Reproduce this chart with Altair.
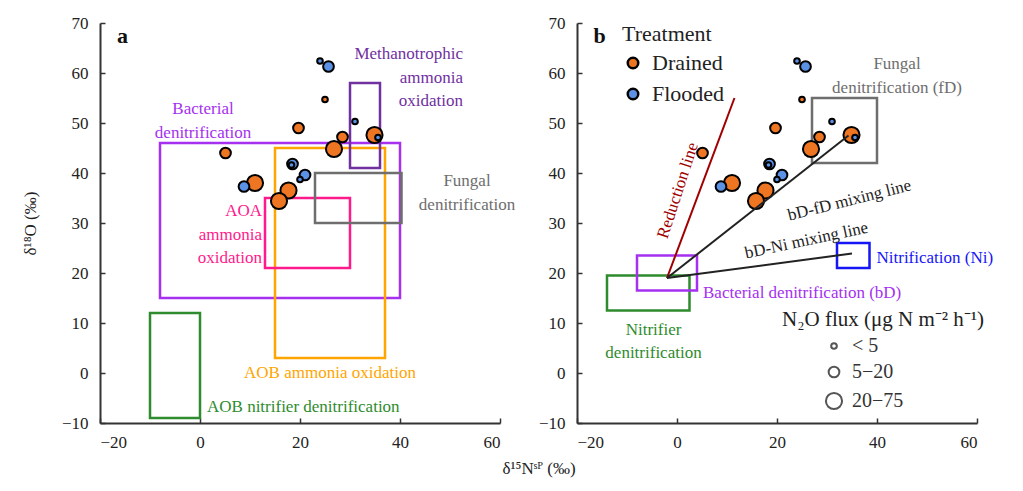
import altair as alt
import pandas as pd

FONT = "Liberation Serif"

# ---------------- data ----------------
# measured samples (same in both panels); large first so small ones sit on top
pt_x = [34.9, 26.8, 11.0, 17.7, 15.8, 19.7, 28.5, 5.1, 18.5, 21.0, 8.8, 25.7, 24.0, 25.0, 31.0, 35.6, 18.3, 20.0]
pt_y = [47.6, 44.8, 38.0, 36.5, 34.4, 49.0, 47.2, 44.0, 41.8, 39.6, 37.3, 61.3, 62.4, 54.7, 50.3, 47.1, 41.6, 38.7]
pt_treat = ["Drained", "Drained", "Drained", "Drained", "Drained",
            "Drained", "Drained", "Drained", "Flooded", "Flooded", "Flooded", "Flooded",
            "Flooded", "Drained", "Flooded", "Flooded", "Flooded", "Flooded"]
pt_flux = ["20\u221275"] * 5 + ["5\u221220"] * 7 + ["< 5"] * 6

treat_domain = ["Drained", "Flooded"]
treat_colors = ["#EE7623", "#5B92E5"]
flux_domain = ["< 5", "5\u221220", "20\u221275"]
flux_sizes = [32, 115, 260]

x_ticks = [-20, 0, 20, 40, 60]
y_ticks = [-10, 0, 10, 20, 30, 40, 50, 60, 70]

# panel a: source boxes
a_box_x1 = [-8, 15, 13, 23, 30, -10]
a_box_x2 = [40, 37, 30, 40.3, 36, 0]
a_box_y1 = [15, 3, 21, 30, 41, -9]
a_box_y2 = [46, 45, 35, 40, 58, 12]
a_box_col = ["#A530F0", "#FFA500", "#FF1A8C", "#6E6E6E", "#7030A0", "#2E8B2E"]

a_lab_text = ["Bacterial\ndenitrification", "Methanotrophic\nammonia\noxidation",
              "Fungal\ndenitrification", "AOA\nammonia\noxidation",
              "AOB ammonia oxidation", "AOB nitrifier denitrification"]
a_lab_x = [0.6, 52.6, 53.4, 12.4, 26.0, 1.4]
a_lab_y = [52.8, 63.8, 38.4, 32.4, 0.0, -6.8]
a_lab_col = ["#A530F0", "#7030A0", "#6E6E6E", "#FF1A8C", "#FFA500", "#2E8B2E"]
a_lab_align = ["center", "right", "center", "right", "center", "left"]
a_lab_angle = [0, 0, 0, 0, 0, 0]

# panel b: source boxes
b_box_x1 = [27, 32, -14, -8]
b_box_x2 = [40, 38.5, 2.5, 4]
b_box_y1 = [42, 21, 12.5, 16.5]
b_box_y2 = [55, 26, 19.5, 23.5]
b_box_col = ["#6E6E6E", "#1515F5", "#2E8B2E", "#A530F0"]

# panel b: reduction and mixing lines
b_line_x1 = [-2, -2, -2]
b_line_y1 = [19, 19, 19]
b_line_x2 = [11.5, 34.3, 35.0]
b_line_y2 = [55, 47.5, 23.9]
b_line_col = ["#A00000", "#222222", "#222222"]

b_lab_text = ["Fungal\ndenitrification (fD)", "Nitrification (Ni)", "Bacterial denitrification (bD)",
              "Nitrifier\ndenitrification", "Reduction line", "bD-fD mixing line", "bD-Ni mixing line"]
b_lab_x = [44.0, 39.9, 5.2, -4.7, 0.2, 34.5, 25.9]
b_lab_y = [61.8, 23.1, 16.0, 8.7, 36.5, 34.5, 26.5]
b_lab_col = ["#6E6E6E", "#1515F5", "#A530F0", "#2E8B2E", "#A00000", "#222222", "#222222"]
b_lab_align = ["center", "left", "left", "center", "center", "center", "center"]
b_lab_angle = [0, 0, 0, 0, 288, 346, 348]

panel_letters = ["a", "b"]
letter_x = -15.5
letter_y = 67.4

# ---------------- tables ----------------
points = pd.DataFrame({"x": pt_x, "y": pt_y, "Treatment": pt_treat, "flux": pt_flux})
tickdf = pd.DataFrame({"x": [-20], "y": [-10]})

XS = alt.Scale(domain=[-20, 60], nice=False, zero=False)
YS = alt.Scale(domain=[-10, 70], nice=False, zero=False)


def main_x(title=None):
    kw = dict(values=x_ticks, orient="bottom", tickSize=0, labelPadding=11, domainWidth=2,
              domainColor="#333", labelFont=FONT, labelFontSize=17, labelColor="#222",
              grid=False, titleFont=FONT, titleFontSize=17, titleFontWeight="normal",
              titleColor="#222", titlePadding=10)
    if title:
        return alt.Axis(title=title, titleX=438.5, **kw)
    return alt.Axis(title=None, **kw)


def main_y(title=None):
    kw = dict(values=y_ticks, orient="left", tickSize=0, labelPadding=12, domainWidth=2,
              domainColor="#333", labelFont=FONT, labelFontSize=17, labelColor="#222",
              grid=False, titleFont=FONT, titleFontSize=17, titleFontWeight="normal",
              titleColor="#222")
    if title:
        return alt.Axis(title=title, titleX=-61, **kw)
    return alt.Axis(title=None, **kw)


def tick_axis(orient, values):
    return alt.Axis(orient=orient, offset=-5, tickSize=5, tickWidth=1.5, tickColor="#333",
                    values=values, labels=False, domain=False, grid=False, title=None)


def make_panel(boxes, lines, labels, letter, ytitle, xtitle, legends):
    rects = alt.Chart(boxes).mark_rect(fillOpacity=0, strokeWidth=2.5).encode(
        x=alt.X("x1:Q", scale=XS, axis=main_x(xtitle)),
        x2="x2:Q",
        y=alt.Y("y1:Q", scale=YS, axis=main_y(ytitle)),
        y2="y2:Q",
        stroke=alt.Stroke("col:N", scale=None),
    )
    ticks = alt.Chart(tickdf).mark_point(opacity=0).encode(
        x=alt.X("x:Q", scale=XS, axis=tick_axis("bottom", x_ticks)),
        y=alt.Y("y:Q", scale=YS, axis=tick_axis("left", y_ticks)),
    )
    layers = [rects, ticks]

    size_scale = alt.Scale(type="ordinal", domain=flux_domain, range=flux_sizes)
    color_scale = alt.Scale(domain=treat_domain, range=treat_colors)
    if legends:
        color = alt.Color("Treatment:N", scale=color_scale,
                          legend=alt.Legend(title="Treatment", orient="none", legendX=45, legendY=1,
                                            titleFont=FONT, titleFontSize=22, titleFontWeight="normal",
                                            titleColor="#222", titlePadding=6,
                                            labelFont=FONT, labelFontSize=22, labelColor="#222",
                                            labelOffset=8, symbolType="circle", symbolSize=110,
                                            symbolStrokeColor="black", symbolStrokeWidth=2.5,
                                            rowPadding=9))
        size = alt.Size("flux:N", scale=size_scale,
                        legend=alt.Legend(title="N\u2082O flux (\u03bcg N m\u207b\u00b2 h\u207b\u00b9)",
                                          orient="none", legendX=205, legendY=286,
                                          titleFont=FONT, titleFontSize=21, titleFontWeight="normal",
                                          titleColor="#222", titlePadding=6, titleLimit=400,
                                          labelFont=FONT, labelFontSize=20, labelColor="#333",
                                          labelOffset=8, symbolType="circle", symbolOffset=42,
                                          symbolFillColor="white", symbolStrokeColor="#555",
                                          symbolStrokeWidth=2, rowPadding=6))
    else:
        color = alt.Color("Treatment:N", scale=color_scale, legend=None)
        size = alt.Size("flux:N", scale=size_scale, legend=None)

    pts = alt.Chart(points).mark_circle(stroke="black", strokeWidth=2, opacity=1).encode(
        x=alt.X("x:Q", scale=XS, axis=None),
        y=alt.Y("y:Q", scale=YS, axis=None),
        color=color,
        size=size,
    )
    layers.append(pts)

    if lines is not None:
        ln = alt.Chart(lines).mark_rule(strokeWidth=2).encode(
            x=alt.X("x1:Q", scale=XS, axis=None), y=alt.Y("y1:Q", scale=YS, axis=None),
            x2="x2:Q", y2="y2:Q", stroke=alt.Stroke("col:N", scale=None))
        layers.append(ln)

    for al in ["left", "center", "right"]:
        t = alt.Chart(labels).transform_filter(alt.datum.align == al).mark_text(
            align=al, baseline="middle", font=FONT, fontSize=17, lineBreak="\n", lineHeight=23.5
        ).encode(
            x=alt.X("x:Q", scale=XS, axis=None), y=alt.Y("y:Q", scale=YS, axis=None),
            text="text:N", color=alt.Color("col:N", scale=None),
            angle=alt.Angle("angle:Q", scale=None))
        layers.append(t)

    letter_df = pd.DataFrame({"x": [letter_x], "y": [letter_y], "t": [letter]})
    lt = alt.Chart(letter_df).mark_text(font=FONT, fontSize=22, fontWeight="bold", color="#111",
                                        align="center", baseline="middle").encode(
        x=alt.X("x:Q", scale=XS, axis=None), y=alt.Y("y:Q", scale=YS, axis=None), text="t:N")
    layers.append(lt)

    return alt.layer(*layers).resolve_axis(x="independent", y="independent").properties(
        width=400, height=400)


boxes_a = pd.DataFrame({"x1": a_box_x1, "x2": a_box_x2, "y1": a_box_y1, "y2": a_box_y2, "col": a_box_col})
labels_a = pd.DataFrame({"text": a_lab_text, "x": a_lab_x, "y": a_lab_y, "col": a_lab_col,
                         "align": a_lab_align, "angle": a_lab_angle})
boxes_b = pd.DataFrame({"x1": b_box_x1, "x2": b_box_x2, "y1": b_box_y1, "y2": b_box_y2, "col": b_box_col})
lines_b = pd.DataFrame({"x1": b_line_x1, "y1": b_line_y1, "x2": b_line_x2, "y2": b_line_y2, "col": b_line_col})
labels_b = pd.DataFrame({"text": b_lab_text, "x": b_lab_x, "y": b_lab_y, "col": b_lab_col,
                         "align": b_lab_align, "angle": b_lab_angle})

panel_a = make_panel(boxes_a, None, labels_a, "a", "\u03b4\u00b9\u2078O (\u2030)",
                     "\u03b4\u00b9\u2075N\u02e2\u1d3e (\u2030)", False)
panel_b = make_panel(boxes_b, lines_b, labels_b, "b", None, None, True)

chart = alt.hconcat(panel_a, panel_b, spacing=77, bounds="flush").resolve_scale(
    color="independent", size="independent"
).properties(
    padding={"left": 21, "top": 14, "right": 5, "bottom": 5},
    background="white",
).configure_view(stroke=None)

chart.save("out.html", embed_options={"renderer": "svg", "actions": False})
